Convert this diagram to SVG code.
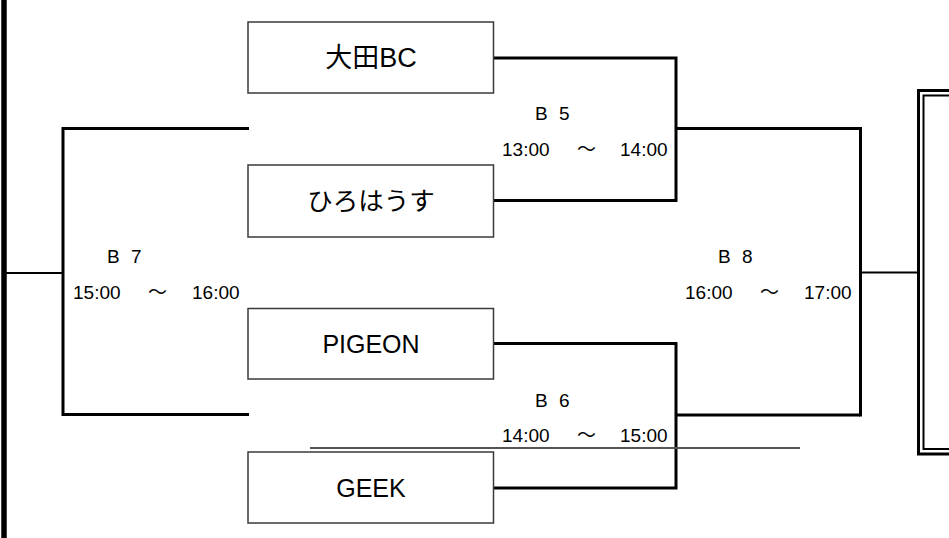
<svg xmlns="http://www.w3.org/2000/svg" width="949" height="538" viewBox="0 0 949 538">
<style>
.box{fill:#fff;stroke:#3a3a3a;stroke-width:1.5}
.team{font-family:"Liberation Sans","Noto Sans CJK JP",sans-serif;font-size:25px;fill:#000;text-anchor:middle}
.jp{font-family:"Noto Sans CJK JP","Liberation Sans",sans-serif;font-size:26px}
.lbl{font-family:"Liberation Sans","Noto Sans CJK JP",sans-serif;font-size:19px;fill:#000}
.ln{fill:none;stroke:#000;stroke-width:3}
.thin{fill:none;stroke:#000;stroke-width:2.2}
</style>
<rect width="949" height="538" fill="#fff"/>
<g id="connectors">
<line class="ln" x1="4" y1="0" x2="4" y2="538" style="stroke-width:5.5"/>
<line class="thin" x1="5" y1="273" x2="63" y2="273"/>
<polyline class="ln" points="249,128.5 63,128.5 63,414.5 249,414.5"/>
<polyline class="ln" points="494,58 676,58 676,200.5 494,200.5"/>
<line class="ln" x1="676" y1="128.5" x2="860" y2="128.5"/>
<polyline class="ln" points="494,343.5 676,343.5 676,488 494,488"/>
<line class="ln" x1="676" y1="415" x2="860" y2="415"/>
<line class="ln" x1="860.5" y1="127" x2="860.5" y2="416.5"/>
<line class="thin" x1="860" y1="272.5" x2="918" y2="272.5"/>
<line x1="310" y1="448" x2="800" y2="448" stroke="#555" stroke-width="2"/>
</g>
<g id="final-box">
<rect x="918.5" y="90.5" width="40" height="363.5" fill="none" stroke="#000" stroke-width="3"/>
<rect x="923.5" y="95.5" width="40" height="353.5" fill="none" stroke="#000" stroke-width="2"/>
</g>
<g id="team-ota">
<rect class="box" x="248" y="22" width="245.5" height="71"/>
<text class="team" x="371" y="67" style="font-size:27px"><tspan class="jp" style="font-size:27px">大田</tspan>BC</text>
</g>
<g id="team-hirohaus">
<rect class="box" x="248" y="165" width="245.5" height="72"/>
<text class="team jp" x="371" y="210" style="font-size:25.5px">ひろはうす</text>
</g>
<g id="team-pigeon">
<rect class="box" x="248" y="308.5" width="245.5" height="70.5"/>
<text class="team" x="371" y="353">PIGEON</text>
</g>
<g id="team-geek">
<rect class="box" x="248" y="452" width="245.5" height="71"/>
<text class="team" x="371" y="497">GEEK</text>
</g>
<g id="match-b5">
<text class="lbl" x="535" y="120" word-spacing="6">B 5</text>
<text class="lbl" y="156"><tspan x="502">13:00</tspan><tspan x="577">～</tspan><tspan x="620">14:00</tspan></text>
</g>
<g id="match-b6">
<text class="lbl" x="535" y="407" word-spacing="6">B 6</text>
<text class="lbl" y="442"><tspan x="502">14:00</tspan><tspan x="577">～</tspan><tspan x="620">15:00</tspan></text>
</g>
<g id="match-b7">
<text class="lbl" x="107" y="263" word-spacing="6">B 7</text>
<text class="lbl" y="299"><tspan x="73">15:00</tspan><tspan x="148">～</tspan><tspan x="192">16:00</tspan></text>
</g>
<g id="match-b8">
<text class="lbl" x="718" y="263" word-spacing="6">B 8</text>
<text class="lbl" y="299"><tspan x="685">16:00</tspan><tspan x="760">～</tspan><tspan x="804">17:00</tspan></text>
</g>
</svg>
